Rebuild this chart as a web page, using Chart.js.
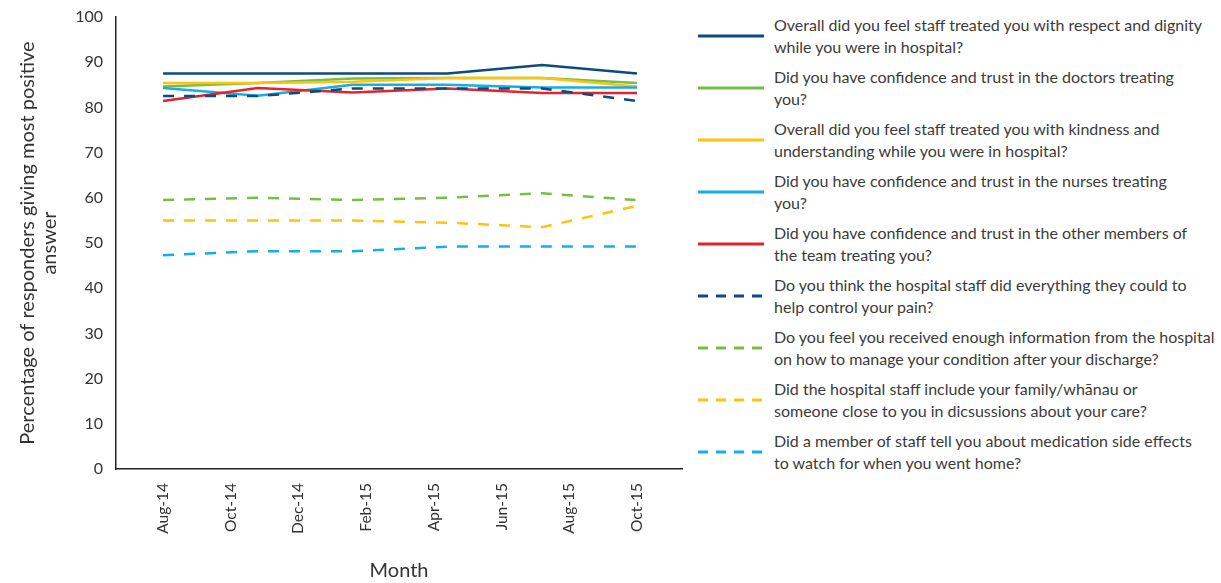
<!DOCTYPE html>
<html>
<head>
<meta charset="utf-8">
<title>Patient experience survey</title>
<script src="https://cdn.jsdelivr.net/npm/chart.js@4.4.1/dist/chart.umd.min.js"></script>
<style>
  body { margin: 0; background: #fff; font-family: Lato, sans-serif; }
  #wrap { position: relative; width: 1221px; height: 583px; }
  #chart { position: absolute; left: 0; top: 0; }
  #legend { position: absolute; left: 698px; top: 14px; color: #3b3b3b; font-size: 16px; line-height: 21.5px; }
  .item { display: flex; align-items: center; height: 43px; margin-bottom: 9px; }
  .item svg { flex: none; margin-right: 10px; }
  .item span { white-space: nowrap; }
</style>
</head>
<body>
<div id="wrap">
  <canvas id="chart" width="690" height="583"></canvas>
  <div id="legend"></div>
</div>
<script>
// months counted from Aug-14
const tickMonths = [0, 2, 4, 6, 8, 10, 12, 14];
const tickLabels = ['Aug-14', 'Oct-14', 'Dec-14', 'Feb-15', 'Apr-15', 'Jun-15', 'Aug-15', 'Oct-15'];
const pointMonths = [0, 2.8, 5.6, 8.4, 11.2, 14];

const respectDignity = [87.5, 87.5, 87.5, 87.5, 89.4, 87.5];
const trustDoctors = [84.6, 85.4, 86.4, 86.5, 86.5, 85.4];
const kindness = [85.4, 85.4, 85.7, 86.5, 86.5, 84.6];
const trustNurses = [84.3, 82.6, 85.0, 85.0, 84.4, 84.4];
const trustOthers = [81.4, 84.3, 83.3, 84.2, 83.2, 83.2];
const painControl = [82.5, 82.5, 84.2, 84.2, 84.2, 81.4];
const dischargeInfo = [59.5, 60.0, 59.5, 60.0, 61.0, 59.5];
const familyIncluded = [55.0, 55.0, 55.0, 54.5, 53.5, 58.2];
const sideEffects = [47.3, 48.2, 48.2, 49.2, 49.2, 49.2];

const legendLines = [
  ['Overall did you feel staff treated you with respect and dignity', 'while you were in hospital?'],
  ['Did you have confidence and trust in the doctors treating', 'you?'],
  ['Overall did you feel staff treated you with kindness and', 'understanding while you were in hospital?'],
  ['Did you have confidence and trust in the nurses treating', 'you?'],
  ['Did you have confidence and trust in the other members of', 'the team treating you?'],
  ['Do you think the hospital staff did everything they could to', 'help control your pain?'],
  ['Do you feel you received enough information from the hospital', 'on how to manage your condition after your discharge?'],
  ['Did the hospital staff include your family/wh\u0101nau or', 'someone close to you in dicsussions about your care?'],
  ['Did a member of staff tell you about medication side effects', 'to watch for when you went home?']
];

const series = [respectDignity, trustDoctors, kindness, trustNurses, trustOthers,
  painControl, dischargeInfo, familyIncluded, sideEffects];
const colors = ['#0d4a82', '#78be43', '#fdc30f', '#14aee8', '#e5232b',
  '#0d4a82', '#78be43', '#fdc30f', '#14aee8'];
const dashed = [false, false, false, false, false, true, true, true, true];

const datasets = series.map((values, i) => ({
  label: legendLines[i].join(' '),
  data: values.map((v, j) => ({x: pointMonths[j], y: v})),
  borderColor: colors[i],
  backgroundColor: colors[i],
  borderWidth: 2.5,
  borderDash: dashed[i] ? [11, 10] : [],
  pointRadius: 0,
  tension: 0,
  // later series on top, like the original
  order: series.length - i
}));

const textColor = '#333';

const chart = new Chart(document.getElementById('chart').getContext('2d'), {
  type: 'line',
  data: {datasets},
  options: {
    responsive: false,
    animation: false,
    layout: {padding: {top: 17, right: 8, bottom: 0, left: 0}},
    plugins: {legend: {display: false}, tooltip: {enabled: false}},
    scales: {
      x: {
        type: 'linear',
        min: -1.39,
        max: 15.33,
        grid: {display: false, drawTicks: false},
        border: {display: true, color: '#222', width: 1.5},
        afterBuildTicks: axis => { axis.ticks = tickMonths.map(v => ({value: v})); },
        afterFit: axis => { axis.height = 114; axis.paddingLeft = 0; axis.paddingRight = 0; },
        ticks: {
          autoSkip: false,
          maxRotation: 90,
          minRotation: 90,
          padding: 14,
          color: textColor,
          font: {family: 'Lato, sans-serif', size: 15.5},
          callback: v => tickLabels[tickMonths.indexOf(v)]
        },
        title: {
          display: true,
          text: 'Month',
          color: textColor,
          font: {family: 'Lato, sans-serif', size: 20},
          padding: {top: 0, bottom: 0}
        }
      },
      y: {
        min: 0,
        max: 100,
        grid: {display: false, drawTicks: false},
        border: {display: true, color: '#222', width: 1.5},
        afterFit: axis => { axis.width = 116; axis.paddingTop = 0; axis.paddingBottom = 0; },
        ticks: {stepSize: 10, padding: 13, color: textColor, font: {family: 'Lato, sans-serif', size: 16}},
        title: {
          display: true,
          text: ['Percentage of responders giving most positive', 'answer'],
          color: textColor,
          font: {family: 'Lato, sans-serif', size: 20, lineHeight: 1.1},
          padding: {top: 17, bottom: 0}
        }
      }
    }
  }
});

// html legend so the long questions can wrap onto two lines
const legend = document.getElementById('legend');
chart.data.datasets.forEach((ds, i) => {
  const item = document.createElement('div');
  item.className = 'item';
  const dash = dashed[i] ? 'stroke-dasharray="10 8"' : '';
  item.innerHTML =
    '<svg width="66" height="4"><line x1="0" y1="2" x2="66" y2="2" stroke="' + ds.borderColor +
    '" stroke-width="3" ' + dash + '/></svg>' +
    '<span>' + legendLines[i].join('<br>') + '</span>';
  legend.appendChild(item);
});
</script>
</body>
</html>
